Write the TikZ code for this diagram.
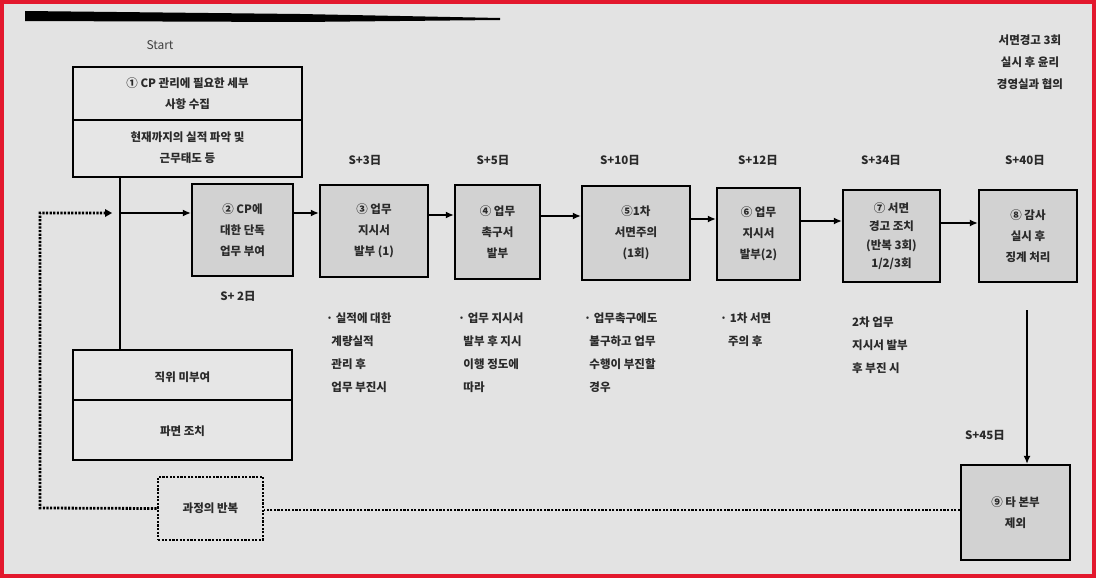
\documentclass[tikz,border=0pt]{standalone}
\usepackage{fontspec}
\setmainfont{Noto Sans CJK KR}
\usetikzlibrary{arrows.meta}
\definecolor{bg}{HTML}{E3E3E3}
\definecolor{boxgray}{HTML}{D2D2D2}
\definecolor{boxlight}{HTML}{E6E6E6}
\definecolor{framered}{HTML}{E3182D}
\definecolor{ink}{HTML}{2A2A2A}
\begin{document}
\begin{tikzpicture}[x=1pt,y=-1pt,
  stepbox/.style={draw=black,line width=2.2pt,fill=boxgray,inner sep=0pt,align=center,
    font=\fontsize{11.5}{21}\selectfont\bfseries,text=ink},
  plainbox/.style={draw=black,line width=2.2pt,fill=boxlight,inner sep=0pt},
  lbl/.style={font=\fontsize{11.5}{21}\selectfont\bfseries,text=ink,align=center,inner sep=0pt},
  note/.style={font=\fontsize{11.5}{23}\selectfont\bfseries,text=ink,align=left,anchor=north west,inner sep=0pt},
  flow/.style={line width=2pt,-{Latex[length=8pt,width=7pt]}},
  dots/.style={line width=2.8pt,dash pattern=on 2.2pt off 1.4pt}]
\useasboundingbox (0,0) rectangle (1096,578);
\fill[bg] (0,0) rectangle (1096,578);
\draw[framered,line width=3.5pt] (2,2) rectangle (1094,576);
% scan artifact bar
\fill[black] (25,11) -- (300,14) -- (500,18) -- (500,20) -- (300,22) -- (25,21) -- cycle;
% Start
\node[lbl,font=\fontsize{12}{13}\selectfont,text=black!75] (start) at (160,45) {Start};
% box 1
\node[plainbox,minimum width=229pt,minimum height=110pt] (b1) at (187.5,122) {};
\draw[line width=2pt] (b1.west |- 0,120) -- (b1.east |- 0,120);
\node[lbl] (b1t) at (187.5,94) {① CP 관리에 필요한 세부\\사항 수집};
\node[lbl] (b1u) at (187.5,148) {현재까지의 실적 파악 및\\근무태도 등};
% lower-left box
\node[plainbox,minimum width=219pt,minimum height=110pt] (b10) at (182.5,405) {};
\draw[line width=2pt] (b10.west |- 0,400) -- (b10.east |- 0,400);
\node[lbl] (b10t) at (182.5,377) {직위 미부여};
\node[lbl] (b10u) at (182.5,431) {파면 조치};
% step boxes
\node[stepbox,minimum width=101pt,minimum height=92pt] (b2) at (242.5,230) {② CP에\\대한 단독\\업무 부여};
\node[stepbox,minimum width=108pt,minimum height=92pt] (b3) at (374,231) {③ 업무\\지시서\\발부 (1)};
\node[stepbox,minimum width=85pt,minimum height=94pt] (b4) at (497.5,232) {④ 업무\\촉구서\\발부};
\node[stepbox,minimum width=108pt,minimum height=94pt] (b5) at (636,233) {⑤1차\\서면주의\\(1회)};
\node[stepbox,minimum width=83pt,minimum height=92pt] (b6) at (758.5,234) {⑥ 업무\\지시서\\발부(2)};
\node[stepbox,minimum width=97pt,minimum height=92pt,font=\fontsize{11.5}{18.5}\selectfont\bfseries] (b7) at (891.5,236) {⑦ 서면\\경고 조치\\(반복 3회)\\1/2/3회};
\node[stepbox,minimum width=98pt,minimum height=92pt] (b8) at (1028,236) {⑧ 감사\\실시 후\\징계 처리};
\node[stepbox,minimum width=109pt,minimum height=95pt] (b9) at (1015.5,512.5) {⑨ 타 본부\\제외};
% dotted repeat box
\node[draw=black,dots,fill=bg,minimum width=105pt,minimum height=63pt,lbl] (rep) at (210.5,508.5) {과정의 반복};
% date labels
\node[lbl] (d2) at (238,296) {S+ 2日};
\node[lbl] (d3) at (365,160) {S+3日};
\node[lbl] (d4) at (493,160) {S+5日};
\node[lbl] (d5) at (620,160) {S+10日};
\node[lbl] (d6) at (758,160) {S+12日};
\node[lbl] (d7) at (881,160) {S+34日};
\node[lbl] (d8) at (1025,160) {S+40日};
\node[lbl] (d9) at (985,435) {S+45日};
% top-right note
\node[lbl,font=\fontsize{11.5}{22}\selectfont\bfseries] (tr) at (1030,62) {서면경고 3회\\실시 후 윤리\\경영실과 협의};
% notes under boxes
\node[note] (n3) at (326,313) {· 실적에 대한\\\ \ 계량실적\\\ \ 관리 후\\\ \ 업무 부진시};
\node[note] (n4) at (458,313) {· 업무 지시서\\\ \ 발부 후 지시\\\ \ 이행 정도에\\\ \ 따라};
\node[note] (n5) at (584,313) {· 업무촉구에도\\\ \ 불구하고 업무\\\ \ 수행이 부진할\\\ \ 경우};
\node[note] (n6) at (720,313) {· 1차 서면\\\ \ \ 주의 후};
\node[note] (n7) at (852,317) {2차 업무\\지시서 발부\\후 부진 시};
% connectors
\coordinate (j) at (120,213);
\draw[line width=2pt] (b1.south -| j) -- (b10.north -| j);
\draw[flow] (j) -- (b2.west |- j);
\draw[flow] (b2.east |- 0,213) -- (b3.west |- 0,213);
\draw[flow] (b3.east |- 0,215) -- (b4.west |- 0,215);
\draw[flow] (b4.east |- 0,216) -- (b5.west |- 0,216);
\draw[flow] (b5.east |- 0,219) -- (b6.west |- 0,219);
\draw[flow] (b6.east |- 0,221) -- (b7.west |- 0,221);
\draw[flow] (b7.east |- 0,223) -- (b8.west |- 0,223);
\draw[flow] (1027,310) -- (b9.north -| 1027,0);
% dotted loop
\coordinate (dl) at (40,508);
\coordinate (dt) at (40,213);
\coordinate (da) at (108,213);
\draw[dots] (rep.west) -- (dl) -- (dt) -- (da);
\fill[black] (da) ++(4,0) -- ++(-7,-4) -- ++(0,8) -- cycle;
\draw[dots] (b9.west |- 0,510) -- (rep.east |- 0,510);
\end{tikzpicture}
\end{document}
